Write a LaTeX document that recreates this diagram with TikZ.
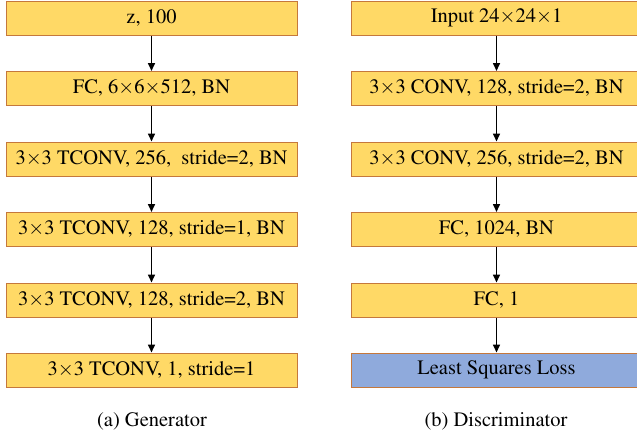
\documentclass[tikz,border=0pt]{standalone}
\usepackage[T1]{fontenc}
\usepackage{mathptmx}
\usetikzlibrary{arrows.meta}
\definecolor{boxyellow}{RGB}{255,217,102}
\definecolor{boxblue}{RGB}{143,170,220}
\definecolor{boxedge}{RGB}{197,120,60}
\newcommand{\tx}{\ensuremath{\mathord{\times}}}
\tikzset{
  layer/.style={draw=boxedge, line width=1pt, fill=boxyellow, minimum width=291pt, minimum height=34pt, inner sep=0pt, font=\fontsize{20.5}{24}\selectfont},
  lossbox/.style={layer, fill=boxblue},
  flow/.style={-{Triangle[length=8pt,width=7pt]}, line width=1.6pt, black},
  caption/.style={font=\fontsize{20.5}{24}\selectfont}
}
\begin{document}
\begin{tikzpicture}[x=1pt,y=-1pt]
\useasboundingbox (0,0) rectangle (637,439);
\begin{scope}
\clip (0,0) rectangle (637,439);
% Generator
\node[layer] (g1) at (151.5,18) {z, 100};
\node[layer] (g2) at (151.5,88.5) {FC, 6\tx6\tx512, BN};
\node[layer] (g3) at (151.5,159) {3\tx3 TCONV, 256,\ \ stride=2, BN};
\node[layer] (g4) at (151.5,229.5) {3\tx3 TCONV, 128, stride=1, BN};
\node[layer] (g5) at (151.5,300) {3\tx3 TCONV, 128, stride=2, BN};
\node[layer] (g6) at (151.5,370) {3\tx3 TCONV, 1, stride=1};
\draw[flow] (g1) -- (g2);
\draw[flow] (g2) -- (g3);
\draw[flow] (g3) -- (g4);
\draw[flow] (g4) -- (g5);
\draw[flow] (g5) -- (g6);
\node[caption] (ca) at (152,421) {(a) Generator};
% Discriminator
\node[layer] (d1) at (496.5,18) {Input 24\tx24\tx1};
\node[layer] (d2) at (496.5,88.5) {3\tx3 CONV, 128, stride=2, BN};
\node[layer] (d3) at (496.5,159) {3\tx3 CONV, 256, stride=2, BN};
\node[layer] (d4) at (496.5,229.5) {FC, 1024, BN};
\node[layer] (d5) at (496.5,300) {FC, 1};
\node[lossbox] (d6) at (496.5,370) {Least Squares Loss};
\draw[flow] (d1) -- (d2);
\draw[flow] (d2) -- (d3);
\draw[flow] (d3) -- (d4);
\draw[flow] (d4) -- (d5);
\draw[flow] (d5) -- (d6);
\node[caption] (cb) at (496,421) {(b) Discriminator};
\end{scope}
\end{tikzpicture}
\end{document}
